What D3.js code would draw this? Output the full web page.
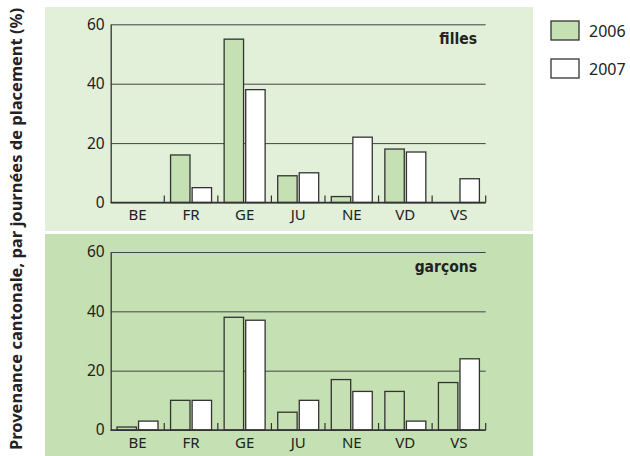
<!DOCTYPE html>
<html>
<head>
<meta charset="utf-8">
<script src="https://cdn.jsdelivr.net/npm/d3@7"></script>
<style>
  body { margin: 0; background: #fff; }
  svg text { font-family: "Noto Sans", "Open Sans", sans-serif; fill: #222; }
  .panel-title { font-family: "Liberation Sans Narrow", "DejaVu Sans Condensed", sans-serif; font-weight: bold; font-stretch: condensed; }
</style>
</head>
<body>
<div id="chart"></div>
<script>
// cantons on the x axis
const cantons = ["BE", "FR", "GE", "JU", "NE", "VD", "VS"];
const years = ["2006", "2007"];
const yTicks = [0, 20, 40, 60];

// percent of placement days
const filles2006 = [0, 16, 55, 9, 2, 18, 0];
const filles2007 = [0, 5, 38, 10, 22, 17, 8];
const garcons2006 = [1, 10, 38, 6, 17, 13, 16];
const garcons2007 = [3, 10, 37, 10, 13, 3, 24];

const W = 630, H = 456;
const svg = d3.select("#chart").append("svg")
    .attr("width", W)
    .attr("height", H);

const fillColor = { "2006": "#c5e0b3", "2007": "#ffffff" };

// axis extents
const x0 = 110.7, x1 = 485.7;
const x = d3.scaleBand()
    .domain(cantons)
    .range([x0, x1])
    .padding(0);
const bw = x.bandwidth();
const xs = d3.scaleBand()
    .domain(years)
    .range([6.3, bw - 6.3])
    .paddingInner(0.1);

const panels = [
    { title: "filles", a: filles2006, b: filles2007, bgY: 7, bgH: 224, bg: "#e2efd9", top: 24.3, bottom: 202.5 },
    { title: "garçons", a: garcons2006, b: garcons2007, bgY: 234, bgH: 222, bg: "#c5e0b3", top: 252, bottom: 430 }
];

panels.forEach(function(p) {
    svg.append("rect")
        .attr("x", 45).attr("y", p.bgY)
        .attr("width", 488).attr("height", p.bgH)
        .attr("fill", p.bg);

    const y = d3.scaleLinear().domain([0, 60]).range([p.bottom, p.top]);

    // y axis with grid lines
    const gy = svg.append("g")
        .attr("transform", "translate(" + x0 + ",0)")
        .call(d3.axisLeft(y).tickValues(yTicks).tickSize(-(x1 - x0)).tickSizeOuter(0).tickPadding(6));
    gy.selectAll(".tick line").attr("stroke", "#444").attr("stroke-width", 1);
    gy.select(".domain").attr("stroke", "#333").attr("stroke-width", 1.3);
    gy.selectAll(".tick text")
        .attr("font-size", 15.5)
        .attr("fill", "#222")
        .style("font-family", "'Noto Sans', sans-serif");

    // bars
    const rows = cantons.map(function(c, i) {
        return { canton: c, values: [{ year: "2006", v: p.a[i] }, { year: "2007", v: p.b[i] }] };
    });
    svg.append("g")
        .selectAll("g")
        .data(rows)
        .enter()
        .append("g")
        .attr("transform", function(d) { return "translate(" + x(d.canton) + ",0)"; })
        .selectAll("rect")
        .data(function(d) { return d.values; })
        .enter()
        .append("rect")
        .attr("x", function(d) { return xs(d.year); })
        .attr("y", function(d) { return y(d.v); })
        .attr("width", xs.bandwidth())
        .attr("height", function(d) { return y(0) - y(d.v); })
        .attr("fill", function(d) { return fillColor[d.year]; })
        .attr("stroke", "#333")
        .attr("stroke-width", 1.3);

    // baseline
    svg.append("line")
        .attr("x1", x0).attr("x2", x1)
        .attr("y1", y(0)).attr("y2", y(0))
        .attr("stroke", "#333").attr("stroke-width", 1.3);

    // small separators between cantons
    svg.append("g")
        .selectAll("line")
        .data(cantons)
        .enter()
        .append("line")
        .attr("x1", function(d) { return x(d) + bw; })
        .attr("x2", function(d) { return x(d) + bw; })
        .attr("y1", y(0))
        .attr("y2", y(0) - 7)
        .attr("stroke", "#333")
        .attr("stroke-width", 1.2);

    // canton labels
    const gx = svg.append("g")
        .attr("transform", "translate(0," + y(0) + ")")
        .call(d3.axisBottom(x).tickSize(0).tickPadding(7));
    gx.select(".domain").remove();
    gx.selectAll(".tick text")
        .attr("font-size", 15)
        .attr("fill", "#222")
        .style("font-family", "'Noto Sans', sans-serif");

    svg.append("text")
        .attr("class", "panel-title")
        .attr("x", 477)
        .attr("y", p.top + 20)
        .attr("text-anchor", "end")
        .attr("font-size", 15.5)
        .text(p.title);
});

// legend
const legend = svg.append("g")
    .selectAll("g")
    .data(years)
    .enter()
    .append("g")
    .attr("transform", function(d, i) { return "translate(551," + (21 + i * 38) + ")"; });
legend.append("rect")
    .attr("width", 28).attr("height", 19)
    .attr("fill", function(d) { return fillColor[d]; })
    .attr("stroke", "#333")
    .attr("stroke-width", 1.3);
legend.append("text")
    .attr("x", 38).attr("y", 15.5)
    .attr("font-size", 16)
    .text(function(d) { return d; });

// y axis title
svg.append("text")
    .attr("transform", "translate(22,229) rotate(-90)")
    .attr("text-anchor", "middle")
    .attr("font-size", 16.5)
    .attr("font-weight", "bold")
    .text("Provenance cantonale, par journées de placement (%)");
</script>
</body>
</html>
